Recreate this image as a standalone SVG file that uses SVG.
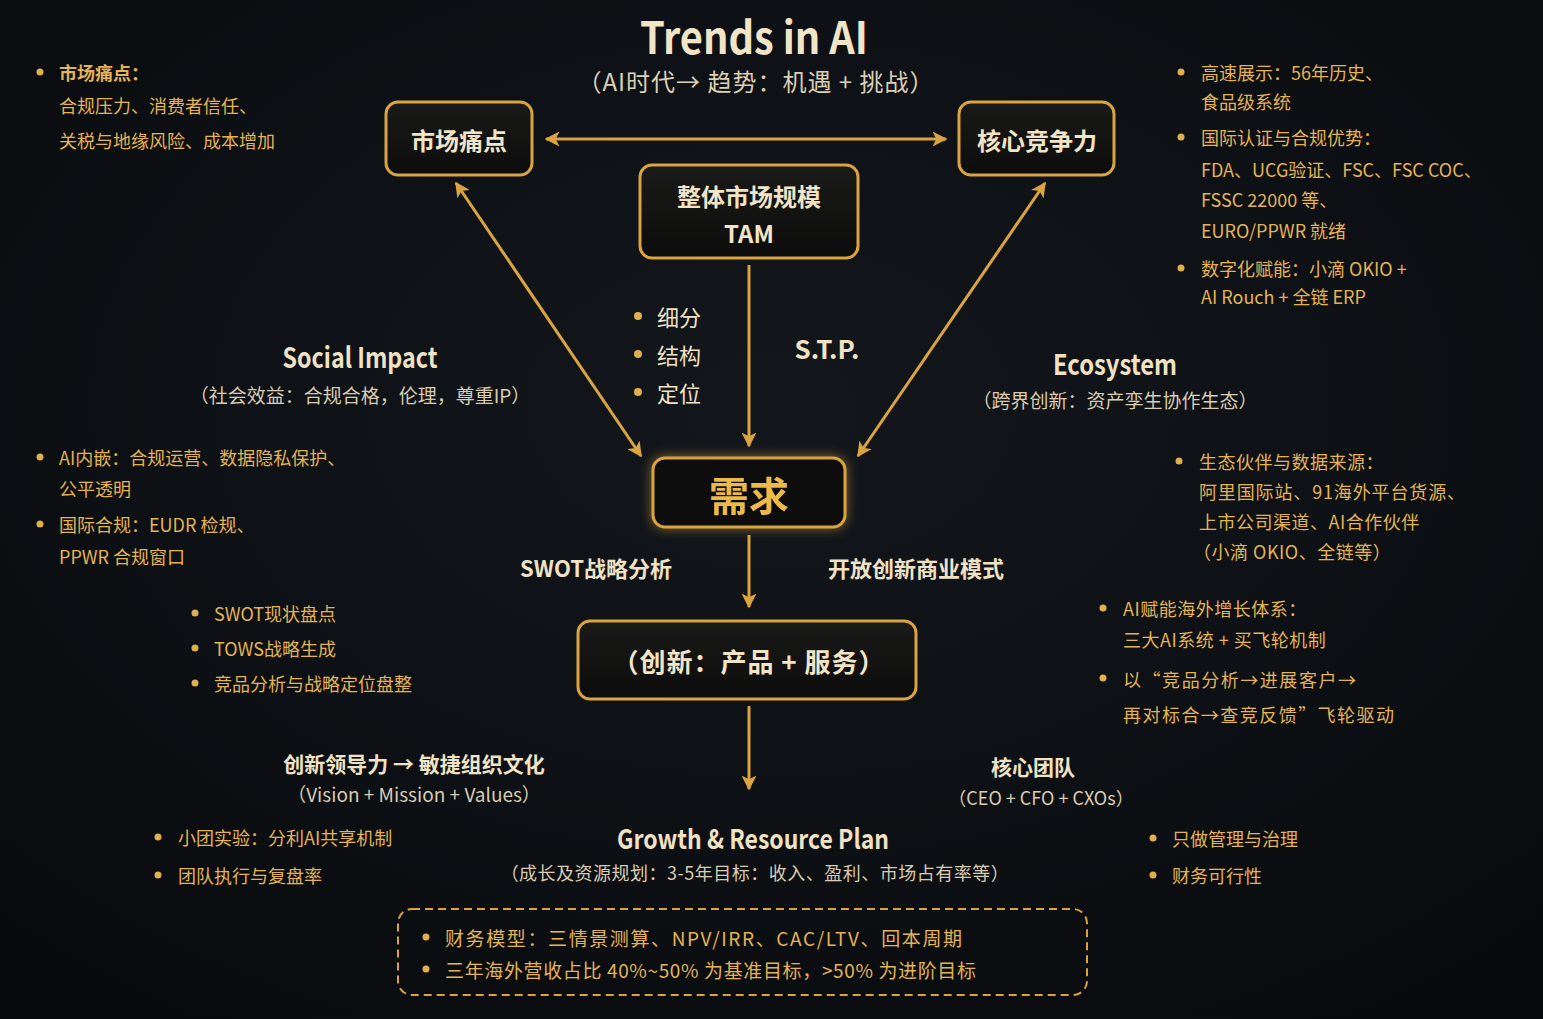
<svg xmlns="http://www.w3.org/2000/svg" width="1543" height="1019" viewBox="0 0 1543 1019">
<defs>
<radialGradient id="bg" cx="50%" cy="40%" r="75%">
<stop offset="0" stop-color="#13171c"/>
<stop offset="1" stop-color="#080a0d"/>
</radialGradient>
<linearGradient id="boxfill" x1="0" y1="0" x2="0" y2="1">
<stop offset="0" stop-color="#1a1a19"/>
<stop offset="1" stop-color="#0c0c0c"/>
</linearGradient>
<filter id="glow" x="-30%" y="-50%" width="160%" height="200%">
<feGaussianBlur in="SourceAlpha" stdDeviation="6" result="b"/>
<feFlood flood-color="#e8b040" flood-opacity="0.55"/>
<feComposite in2="b" operator="in" result="g"/>
<feMerge><feMergeNode in="g"/><feMergeNode in="SourceGraphic"/></feMerge>
</filter>
<marker id="ah" viewBox="0 0 10 10" refX="9" refY="5" markerWidth="15" markerHeight="15" markerUnits="userSpaceOnUse" orient="auto-start-reverse">
<path d="M0,0 L10,5 L0,10 L2.5,5 z" fill="#d9a441"/>
</marker>
</defs>
<style>
text{font-family:"Noto Sans CJK SC","Noto Sans",sans-serif;dominant-baseline:central}
.node{fill:url(#boxfill);stroke:#d9a441;stroke-width:3}
.nt{fill:#f2e4c6;font-size:24px;font-weight:700;text-anchor:middle}
.cream{fill:#f0e2c4}
.sub{fill:#d9ccb2;font-size:19px;text-anchor:middle}
.hd{fill:#f0e2c4;font-size:28px;font-weight:700;text-anchor:middle}
.gold{fill:#e3b456;font-size:18px}
.goldb{fill:#e3b456;font-size:18px;font-weight:700}
.dot{fill:#e0b050}
.conn line{stroke:#d9a441;stroke-width:3;marker-end:url(#ah)}
.conn line.both{marker-start:url(#ah)}
</style>
<rect width="1543" height="1019" fill="url(#bg)"/>

<!-- Title -->
<text x="754" y="35" text-anchor="middle" font-size="44" font-weight="700" fill="#f2e4c6" textLength="228" lengthAdjust="spacingAndGlyphs">Trends in AI</text>
<text x="756" y="80" text-anchor="middle" font-size="24" fill="#dccfb6" style="letter-spacing:1px">（AI时代→ 趋势：机遇 + 挑战）</text>

<!-- Connectors -->
<g id="connectors" class="conn">
<line class="both" x1="546" y1="139" x2="946" y2="139"/>
<line class="both" x1="456" y1="183" x2="641" y2="456"/>
<line class="both" x1="1045" y1="183" x2="858" y2="456"/>
<line x1="749" y1="265" x2="749" y2="446"/>
<line x1="749" y1="535" x2="749" y2="607"/>
<line x1="749" y1="706" x2="749" y2="789"/>
</g>

<!-- Nodes -->
<g id="node-pain">
<rect class="node" x="386" y="102" width="146" height="73" rx="12"/>
<text class="nt" x="459" y="139">市场痛点</text>
</g>
<g id="node-core">
<rect class="node" x="959" y="102" width="155" height="73" rx="12"/>
<text class="nt" x="1037" y="139">核心竞争力</text>
</g>
<g id="node-tam">
<rect class="node" x="640" y="165" width="218" height="93" rx="12"/>
<text class="nt" x="749" y="195">整体市场规模</text>
<text class="nt" x="749" y="232">TAM</text>
</g>
<g id="node-demand" filter="url(#glow)">
<rect class="node" x="653" y="458" width="192" height="69" rx="12" style="fill:#0d0d0c"/>
<text x="749" y="494" text-anchor="middle" font-size="40" font-weight="700" fill="#ecba4c">需求</text>
</g>
<g id="node-innovation">
<rect class="node" x="578" y="621" width="338" height="78" rx="12"/>
<text class="nt" x="749" y="660" style="font-size:26px;letter-spacing:1px">（创新：产品 + 服务）</text>
</g>

<!-- Center labels -->
<g id="stp-bullets">
<circle class="dot" cx="638" cy="316" r="4"/>
<text x="657" y="316" font-size="22" class="cream">细分</text>
<circle class="dot" cx="638" cy="354" r="4"/>
<text x="657" y="354" font-size="22" class="cream">结构</text>
<circle class="dot" cx="638" cy="392" r="4"/>
<text x="657" y="392" font-size="22" class="cream">定位</text>
</g>
<text x="827" y="347" text-anchor="middle" font-size="26" font-weight="700" class="cream">S.T.P.</text>
<text x="596" y="567" text-anchor="middle" font-size="22" font-weight="700" class="cream">SWOT战略分析</text>
<text x="916" y="567" text-anchor="middle" font-size="22" font-weight="700" class="cream">开放创新商业模式</text>

<!-- Social Impact -->
<g id="social-impact">
<text class="hd" x="360" y="356" textLength="155" lengthAdjust="spacingAndGlyphs">Social Impact</text>
<text class="sub" x="360" y="394">（社会效益：合规合格，伦理，尊重IP）</text>
</g>
<!-- Ecosystem -->
<g id="ecosystem">
<text class="hd" x="1115" y="363" textLength="124" lengthAdjust="spacingAndGlyphs">Ecosystem</text>
<text class="sub" x="1115" y="399">（跨界创新：资产孪生协作生态）</text>
</g>

<!-- Left top bullets -->
<g id="left-pain">
<circle class="dot" cx="40" cy="72" r="3.5"/>
<text class="goldb" x="59" y="72">市场痛点：</text>
<text class="gold" x="59" y="105">合规压力、消费者信任、</text>
<text class="gold" x="59" y="140">关税与地缘风险、成本增加</text>
</g>

<!-- Left middle bullets -->
<g id="left-social">
<circle class="dot" cx="40" cy="457" r="3.5"/>
<text class="gold" x="59" y="457">AI内嵌：合规运营、数据隐私保护、</text>
<text class="gold" x="59" y="488">公平透明</text>
<circle class="dot" cx="40" cy="524" r="3.5"/>
<text class="gold" x="59" y="524">国际合规：EUDR 检规、</text>
<text class="gold" x="59" y="556">PPWR 合规窗口</text>
</g>

<g id="left-swot">
<circle class="dot" cx="195" cy="613" r="3.5"/>
<text class="gold" x="214" y="613">SWOT现状盘点</text>
<circle class="dot" cx="195" cy="648" r="3.5"/>
<text class="gold" x="214" y="648">TOWS战略生成</text>
<circle class="dot" cx="195" cy="683" r="3.5"/>
<text class="gold" x="214" y="683">竞品分析与战略定位盘整</text>
</g>

<!-- Leadership -->
<g id="leadership">
<text x="414" y="763" text-anchor="middle" font-size="21" font-weight="700" class="cream">创新领导力 → 敏捷组织文化</text>
<text class="sub" x="414" y="793">（Vision + Mission + Values）</text>
<circle class="dot" cx="158" cy="837" r="3.5"/>
<text class="gold" x="178" y="837">小团实验：分利AI共享机制</text>
<circle class="dot" cx="158" cy="875" r="3.5"/>
<text class="gold" x="178" y="875">团队执行与复盘率</text>
</g>

<!-- Right top bullets -->
<g id="right-core">
<circle class="dot" cx="1181" cy="72" r="3.5"/>
<text class="gold" x="1201" y="72">高速展示：56年历史、</text>
<text class="gold" x="1201" y="101">食品级系统</text>
<circle class="dot" cx="1181" cy="137" r="3.5"/>
<text class="gold" x="1201" y="137">国际认证与合规优势：</text>
<text class="gold" x="1201" y="169">FDA、UCG验证、FSC、FSC COC、</text>
<text class="gold" x="1201" y="199">FSSC 22000 等、</text>
<text class="gold" x="1201" y="230">EURO/PPWR 就绪</text>
<circle class="dot" cx="1181" cy="268" r="3.5"/>
<text class="gold" x="1201" y="268">数字化赋能：小滴 OKIO +</text>
<text class="gold" x="1201" y="296">AI Rouch + 全链 ERP</text>
</g>

<!-- Right middle bullets -->
<g id="right-eco">
<circle class="dot" cx="1179" cy="461" r="3.5"/>
<text class="gold" x="1199" y="461" style="letter-spacing:0.5px">生态伙伴与数据来源：</text>
<text class="gold" x="1199" y="491" textLength="266">阿里国际站、91海外平台货源、</text>
<text class="gold" x="1199" y="521" style="letter-spacing:0.5px">上市公司渠道、AI合作伙伴</text>
<text class="gold" x="1193" y="551" style="letter-spacing:0.5px">（小滴 OKIO、全链等）</text>
</g>

<g id="right-growth">
<circle class="dot" cx="1103" cy="608" r="3.5"/>
<text class="gold" x="1123" y="608" style="letter-spacing:0.5px">AI赋能海外增长体系：</text>
<text class="gold" x="1123" y="639" style="letter-spacing:0.5px">三大AI系统 + 买飞轮机制</text>
<circle class="dot" cx="1103" cy="678" r="3.5"/>
<text class="gold" x="1123" y="679" textLength="233">以“竞品分析→进展客户→</text>
<text class="gold" x="1123" y="714" textLength="271">再对标合→查竞反馈”飞轮驱动</text>
</g>

<!-- Core team -->
<g id="core-team">
<text x="1033" y="766" text-anchor="middle" font-size="21" font-weight="700" class="cream">核心团队</text>
<text class="sub" x="1041" y="797" style="font-size:18px">（CEO + CFO + CXOs）</text>
<circle class="dot" cx="1153" cy="838" r="3.5"/>
<text class="gold" x="1172" y="838">只做管理与治理</text>
<circle class="dot" cx="1153" cy="875" r="3.5"/>
<text class="gold" x="1172" y="875">财务可行性</text>
</g>

<!-- Growth plan -->
<g id="growth-plan">
<text class="hd" x="753" y="837" style="font-size:27px" textLength="272" lengthAdjust="spacingAndGlyphs">Growth &amp; Resource Plan</text>
<text class="sub" x="755" y="872" style="font-size:18px;letter-spacing:0.5px">（成长及资源规划：3-5年目标：收入、盈利、市场占有率等）</text>
</g>

<!-- Financial box -->
<g id="finance-box">
<rect x="398" y="909" width="689" height="86" rx="14" fill="none" stroke="#d9a441" stroke-width="2" stroke-dasharray="8 5"/>
<circle class="dot" cx="426" cy="937" r="3.5"/>
<text class="gold" x="445" y="937" style="font-size:19px" textLength="517">财务模型：三情景测算、NPV/IRR、CAC/LTV、回本周期</text>
<circle class="dot" cx="426" cy="969" r="3.5"/>
<text class="gold" x="445" y="969" style="font-size:19px" textLength="531">三年海外营收占比 40%~50% 为基准目标，&gt;50% 为进阶目标</text>
</g>
</svg>
